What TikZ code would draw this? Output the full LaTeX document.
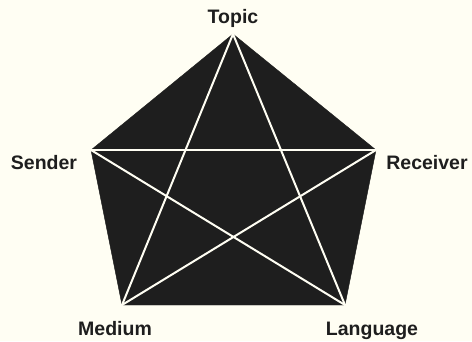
\documentclass[tikz,border=0pt]{standalone}
\usepackage{fontspec}
\setmainfont{Liberation Sans}
\usepackage{xcolor}
\usetikzlibrary{positioning}
\definecolor{paper}{HTML}{FFFEF3}
\definecolor{ink}{HTML}{1E1E1E}

\begin{document}
\begin{tikzpicture}[x=1pt, y=-1pt,
		lbl/.style={font=\fontsize{19.5}{22}\selectfont\bfseries, text=ink, inner sep=0pt, anchor=base},
		face/.style={fill=ink, draw=ink, line join=miter},
		chord/.style={draw=paper, line width=2pt, line cap=round}]

		% ── background ──
		\fill[paper] (0,0) rectangle (472,341);
		\useasboundingbox (0,0) rectangle (472,341);

		% ── corners of the pentagon ──
		\coordinate (topic) at (233,34);
		\coordinate (receiver) at (376,150);
		\coordinate (language) at (345,305);
		\coordinate (medium) at (122,305);
		\coordinate (sender) at (91,150);

		% ── filled pentagon ──
		\path[face] (topic) -- (receiver) -- (language) -- (medium) -- (sender) -- cycle;

		% ── star lines ──
		\draw[chord] (topic) -- (medium);
		\draw[chord] (topic) -- (language);
		\draw[chord] (sender) -- (receiver);
		\draw[chord] (sender) -- (language);
		\draw[chord] (receiver) -- (medium);

		% ── labels ──
		\node[lbl] (topiclbl) at (233,23) {Topic};
		\node[lbl] (senderlbl) at (44,169) {Sender};
		\node[lbl] (receiverlbl) at (427,169) {Receiver};
		\node[lbl] (mediumlbl) at (115,335) {Medium};
		\node[lbl] (languagelbl) at (372,335) {Language};

	\end{tikzpicture}
\end{document}
